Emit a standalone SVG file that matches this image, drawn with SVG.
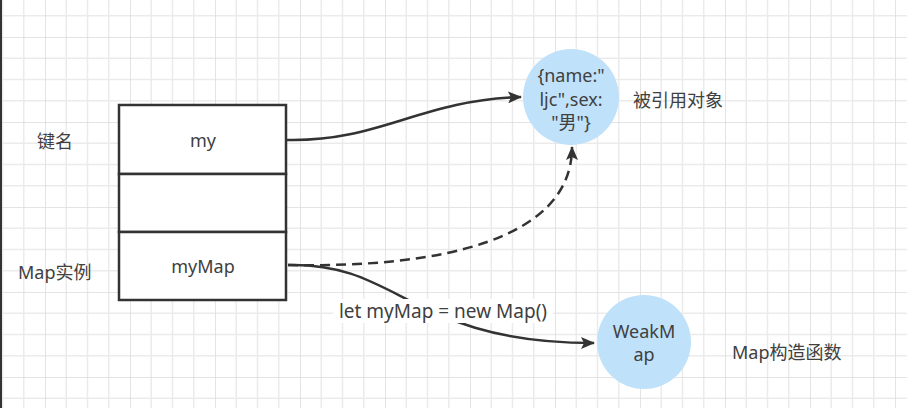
<svg xmlns="http://www.w3.org/2000/svg" width="907" height="408" viewBox="0 0 907 408">
<defs>
<pattern id="grid" x="45" y="37" width="85" height="85" patternUnits="userSpaceOnUse">
<path d="M21.25 0V85M42.5 0V85M63.75 0V85M0 21.25H85M0 42.5H85M0 63.75H85" stroke="#ebebeb" stroke-width="1.5" fill="none"/>
<path d="M0 0V85M0 0H85" stroke="#dcdcdc" stroke-width="1.5" fill="none"/>
</pattern>
<marker id="arr" viewBox="0 0 14 12" refX="13" refY="6" markerWidth="14" markerHeight="12" markerUnits="userSpaceOnUse" orient="auto">
<path d="M0 0L14 6L0 12L3 6Z" fill="#333"/>
</marker>
<style>
.t{font-family:"Noto Sans","Noto Sans CJK SC",sans-serif;font-size:18px;fill:#404040;text-anchor:middle;dominant-baseline:central}
.l{text-anchor:start}
.box{fill:#fff;stroke:#333;stroke-width:2.5}
.c{fill:#bfe1fa;stroke:none}
.e{fill:none;stroke:#333;stroke-width:2.5}
</style>
</defs>
<rect width="907" height="408" fill="#fff"/>
<rect width="907" height="408" fill="url(#grid)"/>
<line x1="1" y1="0" x2="1" y2="408" stroke="#333" stroke-width="2"/>
<g id="table">
<rect class="box" x="119" y="105" width="167" height="69"/>
<rect class="box" x="119" y="174" width="167" height="58"/>
<rect class="box" x="119" y="232" width="167" height="68"/>
<text class="t" x="203" y="140">my</text>
<text class="t" x="203" y="266">myMap</text>
</g>
<g id="obj">
<circle class="c" cx="571" cy="97" r="48"/>
<text class="t" x="571" y="75">{name:"</text>
<text class="t" x="571" y="99">ljc",sex:</text>
<text class="t" x="571" y="122">"男"}</text>
</g>
<g id="weakmap">
<circle class="c" cx="644" cy="342" r="47"/>
<text class="t" x="644" y="331">WeakM</text>
<text class="t" x="644" y="354">ap</text>
</g>
<g id="labels">
<text class="t l" x="37" y="141">键名</text>
<text class="t l" x="18" y="272">Map实例</text>
<text class="t l" x="633" y="100">被引用对象</text>
<text class="t l" x="732" y="352">Map构造函数</text>
</g>
<g id="connectors">
<path class="e" d="M287 140C380 142 420 100 521 97" marker-end="url(#arr)"/>
<path class="e" d="M288 265C440 268 572 240 572 147" stroke-dasharray="10 6" marker-end="url(#arr)"/>
<path class="e" d="M288 265C400 262 410 343 594 343" marker-end="url(#arr)"/>
<rect x="333" y="299" width="220" height="24" fill="#fff"/>
<text class="t" x="443" y="311" style="font-size:19px">let myMap = new Map()</text>
</g>
</svg>
